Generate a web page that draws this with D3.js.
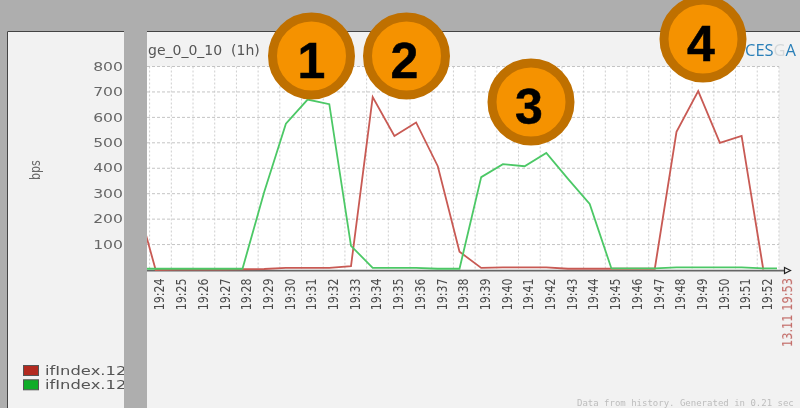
<!DOCTYPE html>
<html>
<head>
<meta charset="utf-8">
<script src="https://cdn.jsdelivr.net/npm/d3@7"></script>
<style>
  html, body { margin: 0; padding: 0; background: #aeaeae; }
  svg { display: block; font-family: "DejaVu Sans", sans-serif; }
  .soft { filter: blur(0.35px); }
</style>
</head>
<body>
<svg width="800" height="408"></svg>
<script>
// Values
const minutes = d3.range(23, 54);
const tickMinutes = d3.range(24, 53);
const yTicks = [100, 200, 300, 400, 500, 600, 700, 800];
const redValues = [307, 0, 2, 2, 2, 3, 4, 8, 8, 8, 15, 680, 527, 580, 408, 72, 8, 10, 10, 10, 5, 5, 5, 5, 5, 543, 703, 500, 527, 2, null];
const greenValues = [5, 5, 5, 5, 5, 5, 307, 575, 670, 652, 95, 8, 8, 8, 5, 5, 365, 416, 408, 460, 358, 260, 6, 6, 6, 10, 10, 10, 10, 6, 6];
const legendLabels = ['ifIndex.12', 'ifIndex.12'];
const badges = [
  { label: '1', x: 311.5, y: 56, dx: 0 },
  { label: '2', x: 406.5, y: 56, dx: -2 },
  { label: '3', x: 531, y: 102, dx: -2 },
  { label: '4', x: 703, y: 39, dx: -2 },
];

const svg = d3.select('svg');
const red = '#b22a20';
const green = '#0fac28';

const x = d3.scaleLinear().domain([24, 52]).range([155.7, 763.3]);
const y = d3.scaleLinear().domain([0, 800]).range([270, 66.5]);

// panel background, one sheet behind the grey band
svg.append('rect').attr('x', 7).attr('y', 31).attr('width', 793).attr('height', 377).attr('fill', '#f2f2f2');
svg.append('path').attr('d', 'M7.5,408V31.5H800').attr('fill', 'none').attr('stroke', '#444').attr('stroke-width', 1);

const chart = svg.append('g').attr('class', 'soft');

chart.append('rect')
  .attr('x', 147).attr('y', y(800))
  .attr('width', 632).attr('height', y(0) - y(800))
  .attr('fill', '#fff');

// grid, the vertical lines sit 6px left of the minute positions
const gridMinutes = d3.range(30).map((i) => 23.72 + i);
chart.append('g').selectAll('line').data(gridMinutes).join('line')
  .attr('x1', (d) => x(d)).attr('x2', (d) => x(d))
  .attr('y1', y(800)).attr('y2', y(0))
  .attr('stroke', '#cfcfcf').attr('stroke-dasharray', '2 2');
chart.append('g').selectAll('line').data(yTicks).join('line')
  .attr('x1', 147).attr('x2', 779)
  .attr('y1', (d) => y(d)).attr('y2', (d) => y(d))
  .attr('stroke', '#c4c4c4').attr('stroke-dasharray', '3 2');

chart.append('line')
  .attr('x1', 147).attr('x2', 785).attr('y1', 270.7).attr('y2', 270.7)
  .attr('stroke', '#666').attr('stroke-width', 1.8);
chart.append('path')
  .attr('d', 'M784.5,267.5L790.5,270.5L784.5,273.5Z')
  .attr('fill', '#f2f2f2').attr('stroke', '#222').attr('stroke-width', 1.2);

// lines
svg.append('clipPath').attr('id', 'plot').append('rect')
  .attr('x', 147).attr('y', 60).attr('width', 630).attr('height', 212);
const line = d3.line()
  .defined((d) => d[1] !== null)
  .x((d) => x(d[0]))
  .y((d) => y(d[1]));
const plot = chart.append('g').attr('clip-path', 'url(#plot)');
plot.append('path')
  .attr('d', line(d3.zip(minutes, redValues)))
  .attr('fill', 'none').attr('stroke', '#c85a54').attr('stroke-width', 1.8);
plot.append('path')
  .attr('d', line(d3.zip(minutes, greenValues)))
  .attr('fill', 'none').attr('stroke', '#4cc866').attr('stroke-width', 1.8);

// x axis
const xAxis = chart.append('g')
  .attr('transform', `translate(0,${y(0) + 0.5})`)
  .call(d3.axisBottom(x)
    .tickValues(tickMinutes)
    .tickFormat((d) => '19:' + d)
    .tickSize(0));
xAxis.select('.domain').remove();
xAxis.selectAll('text')
  .attr('transform', 'rotate(-90) scale(1,1.2)')
  .attr('x', -8).attr('y', 3).attr('dy', '0.35em')
  .attr('text-anchor', 'end')
  .attr('font-family', '"DejaVu Sans", sans-serif')
  .attr('font-size', 11).attr('fill', '#4a4a4a');

chart.append('text')
  .attr('transform', 'translate(792.5,347) rotate(-90) scale(1,1.2)')
  .attr('font-size', 11.4).attr('fill', '#c26a66')
  .text('13.11 19:53');

// y axis, the labels are stretched wide in the screenshot
const yAxis = chart.append('g')
  .attr('transform', 'translate(123,0)')
  .call(d3.axisLeft(y).tickValues(yTicks).tickSize(0).tickPadding(0));
yAxis.select('.domain').remove();
yAxis.selectAll('text')
  .attr('font-family', '"DejaVu Sans", sans-serif')
  .attr('font-size', 11.5).attr('fill', '#666')
  .attr('transform', 'scale(1.36,1)');

chart.append('text')
  .attr('transform', 'translate(40,180) rotate(-90) scale(1,1.25)')
  .attr('font-size', 11).attr('fill', '#666')
  .text('bps');

chart.append('text')
  .attr('x', 148).attr('y', 55)
  .attr('font-size', 14).attr('fill', '#555')
  .style('white-space', 'pre')
  .text('ge_0_0_10  (1h)');

// logo text
const logo = chart.append('text')
  .attr('x', 745).attr('y', 55.5)
  .attr('font-family', '"Open Sans", sans-serif')
  .attr('font-size', 16.5);
logo.append('tspan').attr('fill', '#2a7fb8').text('CES');
logo.append('tspan').attr('fill', '#d4d8da').text('G');
logo.append('tspan').attr('fill', '#2a7fb8').text('A');

// legend
const legend = chart.append('g');
legendLabels.forEach((label, i) => {
  legend.append('rect')
    .attr('x', 23.5).attr('y', 365.5 + i * 14.3)
    .attr('width', 15).attr('height', 10)
    .attr('fill', i === 0 ? red : green)
    .attr('stroke', '#555');
  legend.append('text')
    .attr('transform', `translate(45,${375 + i * 14.3}) scale(1.31,1)`)
    .attr('font-size', 12.5).attr('fill', '#555')
    .text(label);
});

chart.append('text')
  .attr('x', 577).attr('y', 406)
  .attr('font-family', '"DejaVu Sans Mono", monospace')
  .attr('font-size', 9).attr('fill', '#bdbdbd')
  .text('Data from history. Generated in 0.21 sec');

// grey band hides whatever runs under it
svg.append('rect').attr('x', 124).attr('y', 0).attr('width', 23).attr('height', 408).attr('fill', '#aeaeae');

// numbered badges
const badge = svg.append('g').selectAll('g').data(badges).join('g')
  .attr('transform', (d) => `translate(${d.x},${d.y})`);
badge.append('circle').attr('r', 39).attr('fill', '#f59200')
  .attr('stroke', '#bf7000').attr('stroke-width', 9);
badge.append('text')
  .attr('text-anchor', 'middle').attr('x', (d) => d.dx).attr('y', 22)
  .attr('font-family', '"Liberation Sans", Arial, sans-serif')
  .attr('font-weight', 'bold').attr('font-size', 50).attr('fill', '#000')
  .attr('stroke', '#000').attr('stroke-width', 0.5)
  .text((d) => d.label);
</script>
</body>
</html>
